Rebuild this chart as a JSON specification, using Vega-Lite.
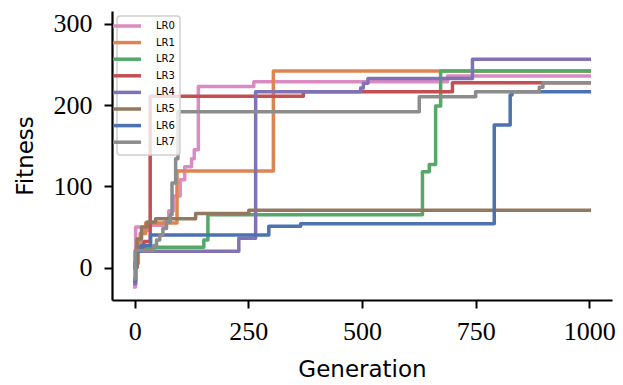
{
  "$schema": "https://vega.github.io/schema/vega-lite/v6.json",
  "autosize": "none",
  "padding": {"left": 112, "top": 11, "right": 11, "bottom": 85},
  "width": 500,
  "height": 289,
  "background": "white",
  "config": {
    "view": {"stroke": null},
    "axis": {
      "grid": false,
      "domainColor": "black",
      "domainWidth": 2.2,
      "tickColor": "black",
      "tickWidth": 2,
      "tickSize": 8,
      "labelFont": "Liberation Serif",
      "labelFontSize": 26,
      "labelColor": "black",
      "titleFont": "DejaVu Sans",
      "titleFontSize": 23,
      "titleFontWeight": "normal",
      "titleColor": "black"
    },
    "legend": {
      "orient": "top-left",
      "offset": 5,
      "padding": 5,
      "fillColor": "rgba(255,255,255,0.8)",
      "strokeColor": "#d0d0d0",
      "strokeWidth": 1.5,
      "cornerRadius": 3,
      "labelFont": "DejaVu Sans",
      "labelFontSize": 10,
      "labelColor": "black",
      "labelOffset": 24,
      "rowPadding": 2.6,
      "symbolType": "M-5,0H5",
      "symbolSize": 31.36,
      "symbolStrokeWidth": 3.5,
      "title": null
    }
  },
  "data": {
    "values": [
      {"s": "LR0", "g": 0, "f": -24}, {"s": "LR0", "g": 2, "f": 50}, {"s": "LR0", "g": 16, "f": 46}, {"s": "LR0", "g": 30, "f": 52}, {"s": "LR0", "g": 65, "f": 56}, {"s": "LR0", "g": 75, "f": 70}, {"s": "LR0", "g": 85, "f": 88}, {"s": "LR0", "g": 100, "f": 108}, {"s": "LR0", "g": 110, "f": 124}, {"s": "LR0", "g": 125, "f": 134}, {"s": "LR0", "g": 131, "f": 145}, {"s": "LR0", "g": 140, "f": 223}, {"s": "LR0", "g": 262, "f": 229}, {"s": "LR0", "g": 688, "f": 236}, {"s": "LR0", "g": 1000, "f": 236},
      {"s": "LR1", "g": 0, "f": 5}, {"s": "LR1", "g": 8, "f": 30}, {"s": "LR1", "g": 12, "f": 42}, {"s": "LR1", "g": 24, "f": 55}, {"s": "LR1", "g": 93, "f": 119}, {"s": "LR1", "g": 305, "f": 242}, {"s": "LR1", "g": 1000, "f": 242},
      {"s": "LR2", "g": 0, "f": 5}, {"s": "LR2", "g": 2, "f": 20}, {"s": "LR2", "g": 25, "f": 25}, {"s": "LR2", "g": 152, "f": 34}, {"s": "LR2", "g": 161, "f": 65}, {"s": "LR2", "g": 633, "f": 118}, {"s": "LR2", "g": 648, "f": 127}, {"s": "LR2", "g": 662, "f": 199}, {"s": "LR2", "g": 673, "f": 242}, {"s": "LR2", "g": 1000, "f": 242},
      {"s": "LR3", "g": 0, "f": 0}, {"s": "LR3", "g": 5, "f": 25}, {"s": "LR3", "g": 20, "f": 32}, {"s": "LR3", "g": 34, "f": 211}, {"s": "LR3", "g": 371, "f": 216.5}, {"s": "LR3", "g": 699, "f": 227.6}, {"s": "LR3", "g": 1000, "f": 227.6},
      {"s": "LR4", "g": 0, "f": -20}, {"s": "LR4", "g": 2, "f": 20}, {"s": "LR4", "g": 229, "f": 36}, {"s": "LR4", "g": 266, "f": 216.5}, {"s": "LR4", "g": 497, "f": 221}, {"s": "LR4", "g": 503, "f": 227}, {"s": "LR4", "g": 513, "f": 233}, {"s": "LR4", "g": 743, "f": 256.5}, {"s": "LR4", "g": 1000, "f": 256.5},
      {"s": "LR5", "g": 0, "f": 0}, {"s": "LR5", "g": 5, "f": 35}, {"s": "LR5", "g": 15, "f": 50}, {"s": "LR5", "g": 27, "f": 56}, {"s": "LR5", "g": 46, "f": 60}, {"s": "LR5", "g": 134, "f": 66.5}, {"s": "LR5", "g": 251, "f": 70.7}, {"s": "LR5", "g": 1000, "f": 70.7},
      {"s": "LR6", "g": 0, "f": -16}, {"s": "LR6", "g": 2, "f": 20}, {"s": "LR6", "g": 15, "f": 27}, {"s": "LR6", "g": 35, "f": 40}, {"s": "LR6", "g": 295, "f": 51}, {"s": "LR6", "g": 365, "f": 54}, {"s": "LR6", "g": 791, "f": 175.5}, {"s": "LR6", "g": 826, "f": 212.5}, {"s": "LR6", "g": 830, "f": 216.5}, {"s": "LR6", "g": 1000, "f": 216.5},
      {"s": "LR7", "g": 0, "f": -14}, {"s": "LR7", "g": 1, "f": 21}, {"s": "LR7", "g": 42, "f": 27}, {"s": "LR7", "g": 48, "f": 34}, {"s": "LR7", "g": 55, "f": 40}, {"s": "LR7", "g": 62, "f": 48}, {"s": "LR7", "g": 70, "f": 56}, {"s": "LR7", "g": 78, "f": 65}, {"s": "LR7", "g": 82, "f": 104}, {"s": "LR7", "g": 90, "f": 134}, {"s": "LR7", "g": 95, "f": 192}, {"s": "LR7", "g": 626, "f": 210.4}, {"s": "LR7", "g": 750, "f": 216.5}, {"s": "LR7", "g": 890, "f": 222}, {"s": "LR7", "g": 898, "f": 227.6}, {"s": "LR7", "g": 1000, "f": 227.6}
    ]
  },
  "mark": {"type": "line", "interpolate": "step-after", "strokeWidth": 3.5, "strokeCap": "square", "strokeJoin": "round"},
  "encoding": {
    "x": {
      "field": "g", "type": "quantitative", "title": "Generation",
      "scale": {"domain": [-50, 1050], "nice": false, "zero": false},
      "axis": {"values": [0, 250, 500, 750, 1000], "format": "d", "labelPadding": 10.5, "titlePadding": 14, "labelFlush": false}
    },
    "y": {
      "field": "f", "type": "quantitative", "title": "Fitness",
      "scale": {"domain": [-40, 316], "nice": false, "zero": false},
      "axis": {"values": [0, 100, 200, 300], "format": "d", "labelPadding": 12, "titlePadding": 16, "labelFlush": false}
    },
    "color": {
      "field": "s", "type": "nominal",
      "scale": {
        "domain": ["LR0", "LR1", "LR2", "LR3", "LR4", "LR5", "LR6", "LR7"],
        "range": ["#DA8BC3", "#DD8452", "#55A868", "#C44E52", "#8172B3", "#937860", "#4C72B0", "#8C8C8C"]
      }
    }
  }
}
